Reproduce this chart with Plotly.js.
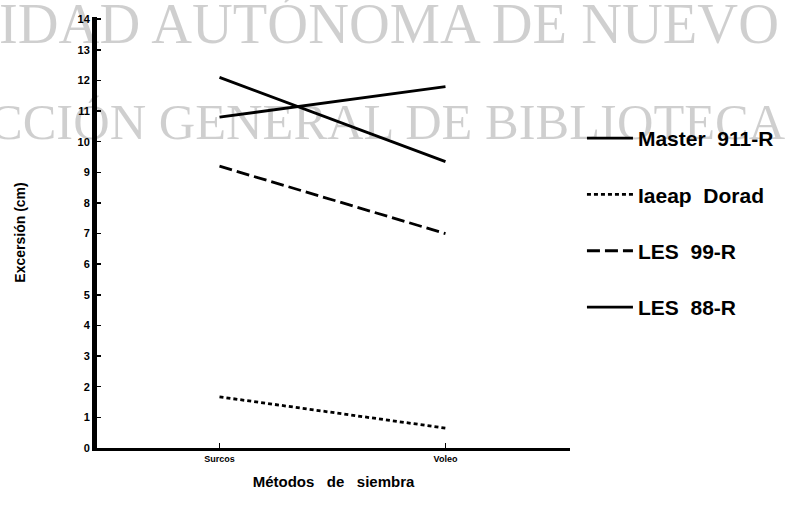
<!DOCTYPE html>
<html>
<head>
<meta charset="utf-8">
<script src="https://cdn.plot.ly/plotly-3.0.1.min.js"></script>
<style>html,body{margin:0;padding:0;background:#fff;}#chart{width:791px;height:511px;}</style>
</head>
<body>
<div id="chart"></div>
<script>
// ---- data ----
var categories = ['Surcos', 'Voleo'];
var seriesNames = ['Master\u00a0\u00a0911-R', 'Iaeap\u00a0\u00a0Dorad', 'LES\u00a0\u00a099-R', 'LES\u00a0\u00a088-R'];
var master911 = [10.8, 11.8];
var iaeapDorad = [1.67, 0.65];
var les99 = [9.2, 7.0];
var les88 = [12.1, 9.35];
var yTickVals = [0,1,2,3,4,5,6,7,8,9,10,11,12,13,14];
var watermark1 = 'IDAD AUTÓNOMA DE NUEVO';
var watermark2 = 'CCIÓN GENERAL DE BIBLIOTECA';

var dashes = ['solid', '4px,3px', '13px,5px', 'solid'];
var values = [master911, iaeapDorad, les99, les88];

var traces = values.map(function (v, i) {
  return {
    type: 'scatter', mode: 'lines',
    x: categories, y: v,
    name: seriesNames[i],
    legendgroup: 'g' + i,
    line: {color: '#000', width: 2.8, dash: dashes[i]}
  };
});

var L = 97, R = 219, T = 17, B = 63;
var W = 791 - L - R, H = 511 - T - B;
function px(x) { return (x - L) / W; }
function py(y) { return (511 - B - y) / H; }

var layout = {
  width: 791, height: 511,
  margin: {l: L, r: R, t: T, b: B, pad: 0},
  paper_bgcolor: '#fff', plot_bgcolor: '#fff',
  font: {family: 'Liberation Sans, Arial, sans-serif', color: '#000'},
  showlegend: true,
  legend: {
    x: px(584), y: py(118), xanchor: 'left', yanchor: 'top',
    font: {size: 21, color: '#000', family: 'Liberation Sans, Arial, sans-serif', weight: 'bold'},
    tracegroupgap: 26, itemwidth: 46, bgcolor: 'rgba(0,0,0,0)'
  },
  xaxis: {
    type: 'category', range: [-0.542, 1.551],
    showgrid: false, zeroline: false,
    showline: true, linecolor: '#000', linewidth: 3,
    ticks: 'inside', ticklen: 5, tickwidth: 1.5, tickcolor: '#000',
    tickfont: {size: 9, family: 'Liberation Sans, Arial, sans-serif', weight: 'bold'},
    title: {text: 'Métodos\u00a0\u00a0 de\u00a0\u00a0 siembra', font: {size: 15, weight: 'bold'}, standoff: 14}
  },
  yaxis: {
    range: [0, 14.07],
    tickvals: yTickVals,
    showgrid: false, zeroline: false,
    showline: true, linecolor: '#000', linewidth: 5,
    ticks: 'inside', ticklen: 4, tickwidth: 1.5, tickcolor: '#000',
    tickfont: {size: 11, family: 'Liberation Sans, Arial, sans-serif', weight: 'bold'},
    title: {text: 'Excersión (cm)', font: {size: 14, weight: 'bold'}, standoff: 50}
  },
  annotations: [
    {text: watermark1, xref: 'paper', yref: 'paper', x: px(-3), y: py(24),
     xanchor: 'left', yanchor: 'middle', showarrow: false,
     font: {family: 'Liberation Serif, Times New Roman, serif', size: 56.5, color: 'rgba(0,0,0,0.19)'}},
    {text: watermark2, xref: 'paper', yref: 'paper', x: px(-13), y: py(122),
     xanchor: 'left', yanchor: 'middle', showarrow: false,
     font: {family: 'Liberation Serif, Times New Roman, serif', size: 50.5, color: 'rgba(0,0,0,0.19)'}}
  ]
};

Plotly.newPlot('chart', traces, layout, {displayModeBar: false, staticPlot: true});
</script>
</body>
</html>
